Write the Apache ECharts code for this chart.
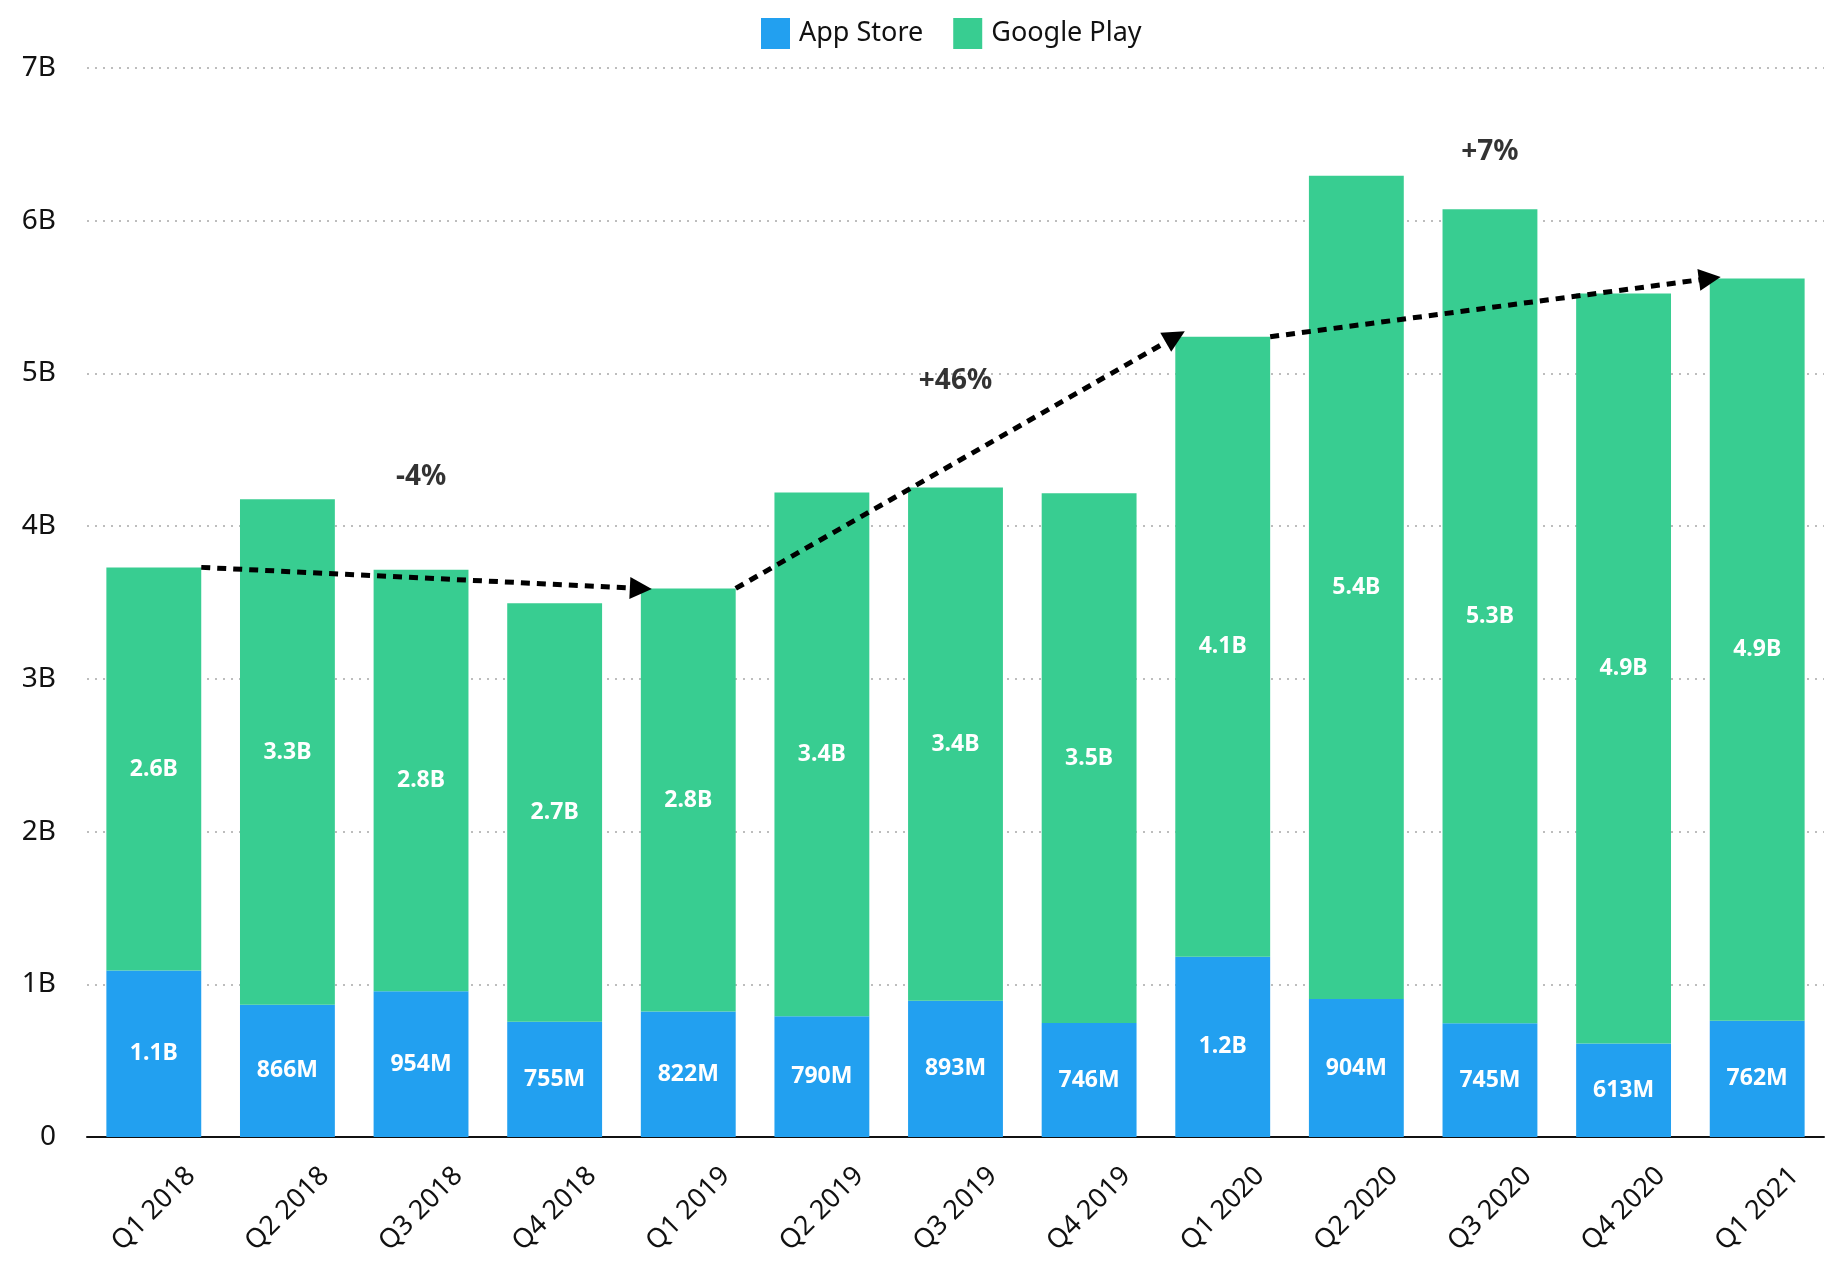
<!DOCTYPE html>
<html>
<head>
<meta charset="utf-8">
<script src="https://cdn.jsdelivr.net/npm/echarts@6/dist/echarts.min.js"></script>
<style>
  html, body { margin: 0; padding: 0; background: #fff; }
  #chart { width: 1827px; height: 1264px; }
</style>
</head>
<body>
<div id="chart"></div>
<script>
// quarters
var quarters = ['Q1 2018', 'Q2 2018', 'Q3 2018', 'Q4 2018', 'Q1 2019', 'Q2 2019', 'Q3 2019',
  'Q4 2019', 'Q1 2020', 'Q2 2020', 'Q3 2020', 'Q4 2020', 'Q1 2021']
// values in millions
var appStore = [1090, 866, 954, 755, 822, 790, 893, 746, 1180, 904, 745, 613, 762]
var googlePlay = [2640, 3310, 2760, 2740, 2770, 3430, 3360, 3470, 4060, 5390, 5330, 4910, 4860]
// growth arrows: from quarter index -> to quarter index
var arrows = [[0, 4], [4, 8], [8, 12]]
var arrowText = ['-4%', '+46%', '+7%']
// where the growth text sits: [quarter index, value]
var arrowTextPos = [[2, 4320], [6, 4950], [10, 6450]]
var yTicks = [0, 1000, 2000, 3000, 4000, 5000, 6000, 7000]

var FONT = 'Noto Sans'
var BAR_FRAC = 0.71

function fmt(v) {
  if (v >= 1000) return (v / 1000).toFixed(1) + 'B'
  return v + 'M'
}

var totals = appStore.map(function (v, i) { return v + googlePlay[i] })

var lineData = arrows.map(function (a) {
  return {
    coords: [[a[0] + BAR_FRAC / 2, totals[a[0]]], [a[1] - BAR_FRAC / 2, totals[a[1]]]]
  }
})

var textData = arrowTextPos.map(function (p, i) {
  return { value: p, label: { formatter: arrowText[i] } }
})

var chart = echarts.init(document.getElementById('chart'))

var option = {
  animation: false,
  textStyle: { fontFamily: FONT },
  legend: {
    left: 756,
    top: 13,
    icon: 'rect',
    itemWidth: 29,
    itemHeight: 31,
    itemGap: 30,
    textStyle: { fontSize: 27, color: '#111', fontFamily: FONT, padding: [0, 0, 0, 4] },
    data: ['App Store', 'Google Play']
  },
  grid: {
    left: 87,
    right: 3,
    top: 68,
    bottom: 127
  },
  xAxis: [{
    type: 'category',
    data: quarters,
    axisLine: { lineStyle: { color: '#111', width: 2 } },
    axisTick: { show: false },
    axisLabel: {
      rotate: 45,
      align: 'center',
      verticalAlign: 'middle',
      margin: 72,
      fontSize: 27,
      color: '#111',
      interval: 0
    }
  }, {
    type: 'value',
    min: -0.5,
    max: quarters.length - 0.5,
    show: false
  }],
  yAxis: {
    type: 'value',
    min: yTicks[0],
    max: yTicks[yTicks.length - 1],
    interval: 1000,
    axisLine: { show: false },
    axisTick: { show: false },
    axisLabel: {
      margin: 31,
      fontSize: 28,
      color: '#111',
      formatter: function (v) { return v === 0 ? '0' : (v / 1000) + 'B' }
    },
    splitLine: {
      lineStyle: { color: '#bdbdbd', width: 2, type: [2, 6] }
    }
  },
  series: [
    {
      name: 'App Store',
      type: 'bar',
      stack: 'total',
      barWidth: (BAR_FRAC * 100) + '%',
      itemStyle: { color: '#22a0f0' },
      label: {
        show: true,
        position: 'inside',
        color: '#fff',
        fontWeight: 'bold',
        fontSize: 23,
        formatter: function (p) { return fmt(p.value) }
      },
      data: appStore
    },
    {
      name: 'Google Play',
      type: 'bar',
      stack: 'total',
      itemStyle: { color: '#38cd91' },
      label: {
        show: true,
        position: 'inside',
        color: '#fff',
        fontWeight: 'bold',
        fontSize: 23,
        formatter: function (p) { return fmt(p.value) }
      },
      data: googlePlay
    },
    {
      type: 'lines',
      coordinateSystem: 'cartesian2d',
      xAxisIndex: 1,
      yAxisIndex: 0,
      symbol: ['none', 'triangle'],
      symbolSize: 22,
      lineStyle: { color: '#000', width: 5, type: [9, 7], opacity: 1 },
      z: 5,
      data: lineData
    },
    {
      type: 'scatter',
      xAxisIndex: 1,
      yAxisIndex: 0,
      symbolSize: 0,
      label: {
        show: true,
        position: 'inside',
        color: '#000',
        fontWeight: 'bold',
        fontSize: 28
      },
      data: textData
    }
  ]
}

chart.setOption(option)
</script>
</body>
</html>
